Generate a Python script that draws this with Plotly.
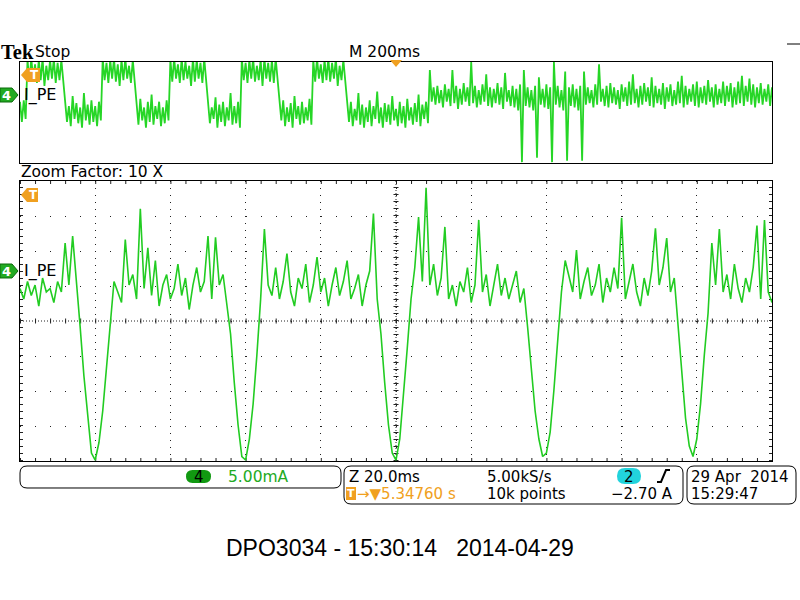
import plotly.graph_objects as go

# ---------------- data ----------------
# Overview record: M 200ms/div -> 2 s window, channel 4 current I_PE (mA).
# Peak-detect style: max and min of each 10 ms interval.
ovr_hi_ma = [
    -6, -5.5,
    8.5, 9, 7, 8.5, 9, 6.5, 8.5, 9, 7.5, 8.5,
    -6, -7.5, -4, -6.5, -8, -3, -7, -5.5, -7.5, -6,
    9, 7.5, 8.5, 9, 7, 8.5, 9, 6.5, 8.5,
    -7, -5, -8, -6, -3.5, -7.5, -6, -8, -5.5,
    8.5, 9, 7, 9, 8, 6.5, 9, 8.5, 7.5, 9,
    -6.5, -8, -4.5, -7, -6, -8, -3, -7.5, -6,
    9, 7.5, 8.5, 9, 6.5, 8.5, 9, 7.5, 8.5, 9,
    -7, -5.5, -8, -6.5, -4, -7.5, -6, -8, -5,
    8.5, 9, 7, 8.5, 9, 7.5, 9, 6.5, 8.5,
    -7.5, -6, -8.5, -3, -7, -8, -5.5, -7.5, -2.5, -8, -6.5, -7, -4, -8.5, -6, -7.5,
    -5, -8, -6.5, -3.5, -7, -6,
    5, -1, -0.5, -2, 0, -1.5, 5, -0.5, -1.5, 0.5, -1, 7.8, -0.5, -2, 0, 3.5,
    -1, -1.5, 0.5, -1, 4, -2, -0.5, -1.5, 0, 5, -1, -2, -0.5, 2.5, -1.5, 0,
    -1, 7.8, -0.5, -2, 4.5, -1, 0, -1.5, -0.5, 4.5, -1, -2, 0, 7, -1.5, -0.5,
    0.5, -1, -2, 0, -1, 1, 3.5, -1.5, -0.5, 0.5, -1, 2.5, -0.5, -1.5, 0.5, -1,
    0, -2, 1, 3, -0.5, -1.5, 0, 1, -1, -0.5, 1.5, -1, 0, -1.5, 1, -0.5,
    0.5, -1, 1, 3, -0.5, 2, 0, -1, 0.5, -1.5, 0, -1,
]
ovr_lo_ma = [
    -13, -12,
    1, 2, 0.5, 1.5, -0.5, 1.5, 2, 0.5, 1.5, 1,
    -13, -14.5, -12, -13.5, -15, -12.5, -14, -13, -14.5, -12.5,
    1.5, 0.5, 2, 1, -0.5, 1.5, 2, 0.5, 1,
    -14, -12.5, -15, -13, -14, -12, -14.5, -13.5, -12.5,
    1, 2, 0.5, 1.5, 2, -0.5, 1, 2, 0.5, 1.5,
    -13.5, -12, -15, -13, -14.5, -12.5, -14, -13.5, -15,
    1.5, 0.5, 2, 1, 1.5, -0.5, 2, 1, 0.5, 1.5,
    -12.5, -14.5, -13, -15, -12, -14, -13.5, -12.5, -14,
    1, 2, 0.5, 1.5, 1, 2, -0.5, 1.5, 1,
    -13, -14.5, -12.5, -14, -15, -13, -14.5, -12, -13.5, -15, -13, -14, -12.5, -14.5,
    -13.5, -15, -12.5, -14, -13, -14.5, -12, -13.5,
    -6, -7, -6.5, -8, -6, -7.5, -6.5, -8.5, -7, -6, -7.5, -6.5, -8, -7, -6, -7.5,
    -8, -6.5, -7, -8.5, -6, -7.5, -8, -9, -27, -7.5, -8, -9, -25.5, -7, -8, -8.5,
    -27, -7, -8, -9, -26.5, -7.5, -8, -9, -26.5, -7, -6.5, -8, -7, -6, -7.5, -8,
    -6.5, -7, -8.5, -6, -7.5, -7, -6.5, -8, -7, -6, -7.5, -8, -6.5, -7, -8.5, -6,
    -7.5, -7, -6.5, -8, -7, -6, -7.5, -8, -6.5, -7, -6, -8, -7, -6.5, -7.5, -6,
    -8, -7, -6.5, -7.5, -6, -7, -8, -6.5, -7, -6, -7.5, -7,
]
ovr_step_ms = 10

# Zoomed record: Z 20.0ms/div -> 200 ms window, 1 ms per sample
zoom_i_ma = [
    -2.5, -4, -1.5, -3.5, -2, -5, -1, -3, -2.5, -4.5, -1.5, -3, 4, -2, 5, -1,
    -8, -15, -21, -26, -27, -24.5, -20, -14, -7, -1.5,
    -3, -4.5, 4.5, -2, -0.5, -4, 8.9, -2.5, 3.3, -3.5, 1.5, -5, -2, -0.5, -4,
    -2.5, 1, -3.5, -1, -5.5, -2, 0.5, -3, -1.5, 5, -4, 4.8, -2, -0.5, -4.5,
    -9, -16, -22, -26.5, -27, -24, -19, -12, -4,
    6, -2, -3.5, 0.5, -4, -1.5, 2.5, -3, -5, -1, -2.5, 1, -4.5, -2, 2, -3, -1,
    -5, -2, 0.5, -3.5, -1.5, 1.5, -4, -2.5, -0.5, -5, -2, 0, 8.2, -4,
    -9, -16, -22, -26, -27, -24, -18, -11, -4,
    0.5, 7.7, -1.5, 11.9, -2, 1, -3.5, -1, 6.3, -4, -2, -5, -1.5, -3, 0.5,
    -4.5, -2, 7.3, -3, -0.5, -5, -2, 1, -3.5, -1, -4, -2, 0, -4.5, -2.5,
    -8, -14, -20, -24, -26.5, -26, -23, -17, -10, -3,
    1.5, -1, -3, 3, -4, -1.5, 0.5, -3.5, -2, 1, -4.5, -1, -3, 0.5, -2.5, 7.6,
    -4, -1.5, 1, -3, -5, -1, -3.5, 0, 6.1, -2, 0.5, 4.7, -3, -1,
    -8, -15, -21, -25, -26.5, -24, -19, -12, -6,
    4, -2, 6, -3, -0.5, -4, 1, -2.5, -4.5, -1, -3, 0.5, 6.5, -4, 7.3, -3, -4.5,
]
zoom_step_ms = 1

# axis settings (from the scope)
ovr_range_ms = [0, 2000]
ovr_range_ma = [-27.3, 7.8]
zoom_range_ms = [0, 200]
zoom_div_ms = 20
zoom_range_ma = [-27.14, 12.86]
zoom_div_ma = 5

# texts
brand = "Tek"
run_state = "Stop"
main_tb = "M 200ms"
ch_label = "I_PE"
zoom_label = "Zoom Factor: 10 X"
ch_scale = "5.00mA"
zoom_tb = "Z 20.0ms"
sample_rate = "5.00kS/s"
trig_pos = "5.34760 s"
rec_len = "10k points"
trig_level = "\u22122.70 A"
date_txt = "29 Apr  2014"
time_txt = "15:29:47"
caption = "DPO3034 - 15:30:14   2014-04-29"

# ---------------- build series ----------------
ovr_t_ms, ovr_i_ma = [], []
for k, (hi, lo) in enumerate(zip(ovr_hi_ma, ovr_lo_ma)):
    ovr_t_ms += [k * ovr_step_ms, k * ovr_step_ms + ovr_step_ms / 2]
    ovr_i_ma += [hi, lo]
zoom_t_ms = [k * zoom_step_ms for k in range(len(zoom_i_ma))]

# ---------------- styling ----------------
W, H = 800, 600
GREEN = "#26d626"
ORANGE = "#f0a020"
SF = "DejaVu Sans"


def fx(x):
    return x / W


def fy(y):
    return 1 - y / H


def poly(pts):
    return "M " + " L ".join(f"{fx(x):.5f},{fy(y):.5f}" for x, y in pts) + " Z"


def rrect(x0, y0, x1, y1, r):
    P = lambda x, y: f"{fx(x):.5f},{fy(y):.5f}"
    return " ".join([
        "M " + P(x0 + r, y0), "L " + P(x1 - r, y0), "Q " + P(x1, y0) + " " + P(x1, y0 + r),
        "L " + P(x1, y1 - r), "Q " + P(x1, y1) + " " + P(x1 - r, y1),
        "L " + P(x0 + r, y1), "Q " + P(x0, y1) + " " + P(x0, y1 - r),
        "L " + P(x0, y0 + r), "Q " + P(x0, y0) + " " + P(x0 + r, y0), "Z"])


shapes = []
annos = []


def txt(x, y, s, size=15.5, color="black", anchor="left", family=SF, bold=False):
    annos.append(dict(x=fx(x), y=fy(y), xref="paper", yref="paper", text=(f"<b>{s}</b>" if bold else s),
                      showarrow=False, xanchor=anchor, yanchor="middle", borderpad=0,
                      font=dict(size=size, color=color, family=family)))


def pshape(path, fill, line="rgba(0,0,0,0)", lw=1):
    shapes.append(dict(type="path", path=path, xref="paper", yref="paper",
                       fillcolor=fill, line=dict(color=line, width=lw), layer="above"))


fig = go.Figure()
fig.add_trace(go.Scatter(x=ovr_t_ms, y=ovr_i_ma, mode="lines", line=dict(color=GREEN, width=1.8),
                         xaxis="x", yaxis="y", hoverinfo="skip"))
fig.add_trace(go.Scatter(x=zoom_t_ms, y=zoom_i_ma, mode="lines", line=dict(color="#22cc22", width=1.6),
                         xaxis="x2", yaxis="y2", hoverinfo="skip"))

frame = dict(showline=True, mirror=True, linecolor="black", linewidth=1, zeroline=False,
             showticklabels=False, ticks="", fixedrange=True)

zc_x = sum(zoom_range_ms) / 2
zc_y = sum(zoom_range_ma) / 2
# crosshair through the centre of the zoom graticule
for w, dash in [(1, "1px,2px"), (5, "1px,14.04px")]:
    shapes.append(dict(type="line", xref="x2", yref="y2", x0=zoom_range_ms[0], x1=zoom_range_ms[1],
                       y0=zc_y, y1=zc_y, line=dict(color="#222", width=w, dash=dash), layer="below"))
for w, dash in [(1, "1px,2px"), (5, "1px,6px")]:
    shapes.append(dict(type="line", xref="x2", yref="y2", y0=zoom_range_ma[0], y1=zoom_range_ma[1],
                       x0=zc_x, x1=zc_x, line=dict(color="#222", width=w, dash=dash), layer="below"))
# edge ticks
for yv in zoom_range_ma:
    shapes.append(dict(type="line", xref="x2", yref="y2", x0=zoom_range_ms[0], x1=zoom_range_ms[1],
                       y0=yv, y1=yv, line=dict(color="#222", width=6, dash="1px,14.04px"), layer="below"))
for xv in zoom_range_ms:
    shapes.append(dict(type="line", xref="x2", yref="y2", y0=zoom_range_ma[0], y1=zoom_range_ma[1],
                       x0=xv, x1=xv, line=dict(color="#222", width=6, dash="1px,6px"), layer="below"))

# header
txt(0, 52, brand, size=20.5, family="Liberation Serif", bold=True)
txt(34, 52, run_state)
txt(348, 52, main_tb)
shapes.append(dict(type="line", xref="paper", yref="paper", x0=fx(787), x1=fx(800), y0=fy(44), y1=fy(44),
                   line=dict(color="black", width=1)))
pshape(poly([(390, 60), (402, 60), (396, 67)]), ORANGE)

# channel markers and trigger markers
for yc in (95, 271):
    pshape(poly([(0, yc - 7), (12, yc - 7), (18, yc), (12, yc + 7), (0, yc + 7)]), "#22aa22", "#0b6b0b", 1)
    txt(6.5, yc, "4", size=13, color="white", anchor="center", bold=True)
    txt(23, yc, ch_label, size=16)
for (yc, xr) in ((75, 40), (195, 38)):
    pshape(poly([(21, yc), (27, yc - 7), (xr, yc - 7), (xr, yc + 7), (27, yc + 7)]), ORANGE)
    txt((27 + xr) / 2 + 0.5, yc, "T", size=12, color="white", anchor="center", bold=True)

txt(20, 172, zoom_label)

# bottom readout boxes
for (x0, y0, x1, y1) in [(20, 466, 341, 488), (344, 466, 683, 504), (687, 466, 796, 504)]:
    pshape(rrect(x0, y0, x1, y1, 7), "rgba(0,0,0,0)", "black", 1)
pshape(rrect(186, 470, 211, 483, 6.5), "#119911")
txt(198.5, 476.5, "4", size=15, anchor="center")
txt(227, 476.5, ch_scale, size=15.5, color="#22aa22")

txt(348, 476.5, zoom_tb, size=15)
txt(486, 476.5, sample_rate, size=15)
pshape(rrect(617, 468, 641, 484, 8), "#22d3dc")
txt(629, 476.5, "2", size=15, anchor="center")
shapes.append(dict(type="path", xref="paper", yref="paper", layer="above",
                   path=f"M {fx(657)},{fy(482)} L {fx(661)},{fy(482)} L {fx(666)},{fy(470)} L {fx(670)},{fy(470)}",
                   line=dict(color="black", width=2)))
pshape(poly([(346, 487), (356, 487), (356, 500), (346, 500)]), ORANGE)
txt(351, 493.5, "T", size=11, color="white", anchor="center", bold=True)
txt(356, 494, "\u2192\u25bc" + trig_pos, size=15, color=ORANGE)
txt(486, 494, rec_len, size=15)
txt(610, 494, trig_level, size=15)
txt(690, 476.5, date_txt, size=15)
txt(690, 494, time_txt, size=15)

txt(400, 548, caption, size=23, family="Liberation Sans", anchor="center")

fig.update_layout(
    width=W, height=H, margin=dict(l=0, r=0, t=0, b=0),
    paper_bgcolor="white", plot_bgcolor="white", showlegend=False,
    xaxis=dict(domain=[fx(20), fx(772)], range=ovr_range_ms, showgrid=False, anchor="y", **frame),
    yaxis=dict(domain=[fy(163), fy(62)], range=ovr_range_ma, showgrid=False, anchor="x", **frame),
    xaxis2=dict(domain=[fx(20), fx(772)], range=zoom_range_ms, anchor="y2", showgrid=True,
                gridcolor="#222", gridwidth=1, griddash="1px,6px", tick0=zoom_range_ms[0], dtick=zoom_div_ms, **frame),
    yaxis2=dict(domain=[fy(461), fy(181)], range=zoom_range_ma, anchor="x2", showgrid=True,
                gridcolor="#222", gridwidth=1, griddash="1px,14.04px", tick0=zoom_range_ma[0], dtick=zoom_div_ma, **frame),
    shapes=shapes, annotations=annos,
)

fig.write_html("out.html")
